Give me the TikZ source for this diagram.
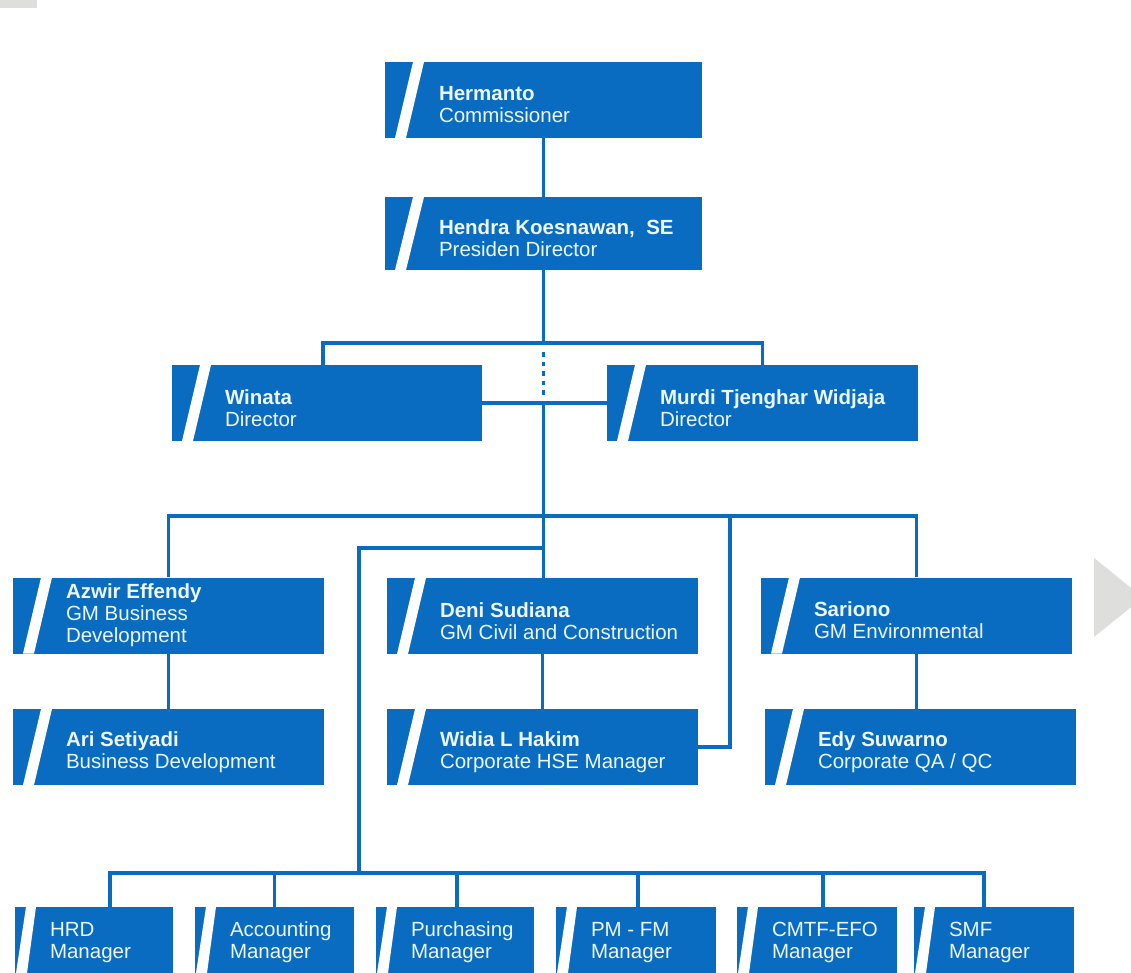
\documentclass[tikz,border=0pt]{standalone}
\usepackage{fontspec}
\setmainfont{Liberation Sans}
\definecolor{orgblue}{RGB}{10,108,192}
\definecolor{orgtext}{RGB}{236,246,255}
\definecolor{orggrey}{RGB}{222,222,220}
\tikzset{
  orgbox/.style={fill=orgblue, inner sep=0pt, minimum width=311pt, minimum height=76pt,
    path picture={\fill[white] ([xshift=10pt]path picture bounding box.south west) -- ++(11pt,0pt)
      -- ([xshift=39pt]path picture bounding box.north west) -- ++(-11pt,0pt) -- cycle;}},
  mgrbox/.style={fill=orgblue, inner sep=0pt, minimum width=159pt, minimum height=66pt,
    path picture={\fill[white] ([xshift=1pt]path picture bounding box.south west) -- ++(11pt,0pt)
      -- ([xshift=21pt]path picture bounding box.north west) -- ++(-10pt,0pt) -- cycle;}},
  boxtext/.style={anchor=west, align=left, inner sep=0pt, text=orgtext, font=\fontsize{20.5}{22}\selectfont},
  link/.style={draw=orgblue, line width=3.5pt},
}
\begin{document}
\begin{tikzpicture}[x=1pt, y=-1pt]
\useasboundingbox (0,0) rectangle (1131,973);
\clip (0,0) rectangle (1131,973);

% page marks
\fill[orggrey] (0,0) rectangle (37,8);
\fill[orggrey] (1094,558) -- (1143,597.5) -- (1094,637) -- cycle;

% board
\node[orgbox, minimum width=317pt] at (543.5,100) (herm) {};
\node[boxtext, yshift=-5pt] at ([xshift=54pt]herm.west) (herm-t) {\textbf{Hermanto}\\Commissioner};
\node[orgbox, minimum width=317pt, minimum height=73pt] at (543.5,233.5) (hendra) {};
\node[boxtext, yshift=-5pt] at ([xshift=54pt]hendra.west) (hendra-t) {\textbf{Hendra Koesnawan,\ \ SE}\\Presiden Director};

% directors
\node[orgbox, minimum width=310pt] at (327,403) (winata) {};
\node[boxtext, yshift=-5pt] at ([xshift=53pt]winata.west) (winata-t) {\textbf{Winata}\\Director};
\node[orgbox] at (762.5,403) (murdi) {};
\node[boxtext, yshift=-5pt] at ([xshift=53pt]murdi.west) (murdi-t) {\textbf{Murdi Tjenghar Widjaja}\\Director};

% general managers
\node[orgbox] at (168.5,615.5) (azwir) {};
\node[boxtext] at ([xshift=53pt]azwir.west) (azwir-t) {\textbf{Azwir Effendy}\\GM Business\\Development};
\node[orgbox] at (168.5,747) (ari) {};
\node[boxtext, yshift=-5pt] at ([xshift=53pt]ari.west) (ari-t) {\textbf{Ari Setiyadi}\\Business Development};
\node[orgbox] at (542.5,616) (deni) {};
\node[boxtext, yshift=-5pt] at ([xshift=53pt]deni.west) (deni-t) {\textbf{Deni Sudiana}\\GM Civil and Construction};
\node[orgbox] at (542.5,747) (widia) {};
\node[boxtext, yshift=-5pt] at ([xshift=53pt]widia.west) (widia-t) {\textbf{Widia L Hakim}\\Corporate HSE Manager};
\node[orgbox] at (916.5,615.5) (sariono) {};
\node[boxtext, yshift=-5pt] at ([xshift=53pt]sariono.west) (sariono-t) {\textbf{Sariono}\\GM Environmental};
\node[orgbox] at (920.5,747) (edy) {};
\node[boxtext, yshift=-5pt] at ([xshift=53pt]edy.west) (edy-t) {\textbf{Edy Suwarno}\\Corporate QA / QC};

% managers
\node[mgrbox, minimum width=158pt] at (94,940) (hrd) {};
\node[boxtext, yshift=-2.5pt] at ([xshift=35pt]hrd.west) (hrd-t) {HRD\\Manager};
\node[mgrbox] at (274.5,940) (acct) {};
\node[boxtext, yshift=-2.5pt] at ([xshift=35pt]acct.west) (acct-t) {Accounting\\Manager};
\node[mgrbox, minimum width=158pt] at (455,940) (purch) {};
\node[boxtext, yshift=-2.5pt] at ([xshift=35pt]purch.west) (purch-t) {Purchasing\\Manager};
\node[mgrbox, minimum width=160pt] at (636,940) (pmfm) {};
\node[boxtext, yshift=-2.5pt] at ([xshift=35pt]pmfm.west) (pmfm-t) {PM - FM\\Manager};
\node[mgrbox, minimum width=160pt] at (817,940) (cmtf) {};
\node[boxtext, yshift=-2.5pt] at ([xshift=35pt]cmtf.west) (cmtf-t) {CMTF-EFO\\Manager};
\node[mgrbox, minimum width=160pt] at (994,940) (smf) {};
\node[boxtext, yshift=-2.5pt] at ([xshift=35pt]smf.west) (smf-t) {SMF\\Manager};

% junctions
\coordinate (dirbus) at (543.5,343);
\coordinate (dirlink) at (543.5,403);
\coordinate (gmbus) at (543.5,516);
\coordinate (hsetap) at (730,516);
\coordinate (mgrtap) at (543.5,548);
\coordinate (mgrbus) at (359,873);

% lines
\draw[link] (herm.south) -- (hendra.north);
\draw[link] (hendra.south) -- (dirbus);
\draw[link] ([xshift=-4pt]winata.north) -- ([xshift=-4pt]winata.north |- dirbus) -- (murdi.north |- dirbus) -- (murdi.north);
\draw[link, dash pattern=on 4.5pt off 5pt, shorten <=9pt, shorten >=7pt] (dirbus) -- (dirlink);
\draw[link] (winata.east) -- (murdi.west);
\draw[link] (dirlink) -- (gmbus);
\draw[link] (azwir.north) -- (azwir.north |- gmbus) -- (sariono.north |- gmbus) -- (sariono.north);
\draw[link] (gmbus) -- (gmbus |- deni.north);
\draw[link] (widia.east) -| (hsetap);
\draw[link] (mgrtap) -| (mgrbus);
\draw[link] (azwir.south) -- (ari.north);
\draw[link] (deni.south) -- (widia.north);
\draw[link] (sariono.south) -- (sariono.south |- edy.north);
\draw[link] ([xshift=16pt]hrd.north) -- ([xshift=16pt]hrd.north |- mgrbus) -- ([xshift=-10pt]smf.north |- mgrbus) -- ([xshift=-10pt]smf.north);
\foreach \mgr/\dx in {acct/0, purch/2, pmfm/2, cmtf/6}
  \draw[link] ([xshift=\dx pt]\mgr.north) -- ([xshift=\dx pt]\mgr.north |- mgrbus);
\end{tikzpicture}
\end{document}
